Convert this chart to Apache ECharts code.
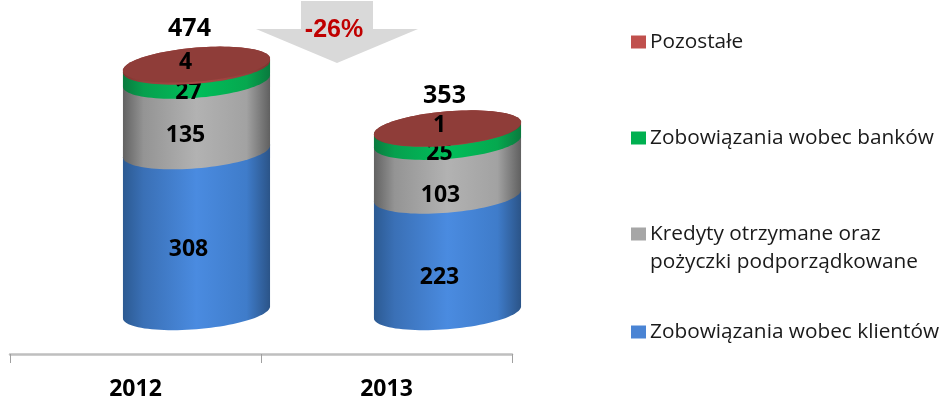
<!DOCTYPE html>
<html><head><meta charset="utf-8">
<style>html,body{margin:0;padding:0;background:#fff}#c{width:942px;height:401px}</style>
<script src="https://cdn.jsdelivr.net/npm/echarts@6/dist/echarts.min.js"></script></head>
<body><div id="c"></div>
<script>
const categories = ['2012', '2013'];
const klienci = [308, 223];
const kredyty = [135, 103];
const banki = [27, 25];
const pozostale = [4, 1];
const totals = [474, 353];
const changeLabel = '-26%';
const names = ['Zobowiązania wobec klientów', 'Kredyty otrzymane oraz\npożyczki podporządkowane', 'Zobowiązania wobec banków', 'Pozostałe'];
const values = [klienci, kredyty, banki, pozostale];
const swatches = ['#4A84D4', '#A6A6A6', '#00B050', '#C0504D'];
const sideStops = [
  ['#2C5A92', '#3A70B6', '#4A8BE0', '#3F7CCA', '#2B5488'],
  ['#626262', '#949494', '#B2B2B2', '#A2A2A2', '#606060'],
  ['#0A7A3E', '#06A04E', '#00BE5A', '#06A84F', '#0A7A3E'],
  ['#7E3430', '#94403C', '#A84844', '#94403C', '#7E3430']
];
const stopAt = [0, .14, .5, .84, 1];
const labelFont = 'Noto Sans';
const bodyShift = 61, widthRatio = 0.586, ry = 17, tilt = 0.08;
// small hand adjustments of label placement: [series][category] -> [dx, dy]
const labelNudge = [[[0, 1], [0, 6]], [[-3, 2], [1, 10]], [[0, 2], [0, 1]], [[-3, 0], [0, 0]]];
const totalNudge = [[0, -1], [4, 3]];

function ellipsePoint(cx, cy, rx, t) {
  const dx = rx * Math.cos(t);
  return [cx + dx, cy + ry * Math.sin(t) - tilt * dx];
}
function renderSegment(s) {
  return function (params, api) {
    const i = api.value(0), from = api.value(1), to = api.value(2);
    const band = api.size([1, 0])[0];
    const base = api.coord([i, from]), top = api.coord([i, to]);
    const cx = base[0] + bodyShift, rx = band * widthRatio / 2;
    const pts = [];
    for (let k = 0; k <= 48; k++) pts.push(ellipsePoint(cx, top[1], rx, Math.PI + Math.PI * k / 48));
    for (let k = 0; k <= 48; k++) pts.push(ellipsePoint(cx, base[1], rx, Math.PI * k / 48));
    const stops = sideStops[s].map((c, n) => ({offset: stopAt[n], color: c}));
    const children = [{type: 'polygon', shape: {points: pts}, style: {fill: {type: 'linear', x: 0, y: 0, x2: 1, y2: 0, colorStops: stops}}}];
    const isTop = s === values.length - 1;
    if (isTop) {
      const cap = [];
      for (let k = 0; k < 96; k++) cap.push(ellipsePoint(cx, top[1], rx, 2 * Math.PI * k / 96));
      children.push({type: 'polygon', shape: {points: cap}, style: {fill: '#8F3D39'}});
    }
    const midY = (base[1] + top[1]) / 2;
    const nudge = labelNudge[s][i];
    children.push({
      type: 'text', z2: 100,
      style: {x: cx - 8 + nudge[0], y: (isTop ? midY - 3 : midY + ry) + nudge[1], text: String(api.value(3)), align: 'center', verticalAlign: 'middle',
        font: 'bold 23px "' + labelFont + '"', fill: '#000'}
    });
    return {type: 'group', children};
  };
}
function segmentData(s) {
  return categories.map((c, i) => {
    let from = 0;
    for (let n = 0; n < s; n++) from += values[n][i];
    return [i, from, from + values[s][i], values[s][i]];
  });
}
const series = values.map((v, s) => ({
  type: 'custom', name: names[s], coordinateSystem: 'cartesian2d',
  itemStyle: {color: swatches[s]}, renderItem: renderSegment(s), data: segmentData(s),
  encode: {x: 0, y: [1, 2]}, z: 2 + s, silent: true
}));
series.push({
  type: 'custom', name: 'Razem', coordinateSystem: 'cartesian2d', silent: true, z: 9,
  data: categories.map((c, i) => [i, values.reduce((a, v) => a + v[i], 0), totals[i]]),
  encode: {x: 0, y: 1},
  renderItem(params, api) {
    const i = api.value(0);
    const p = api.coord([i, api.value(1)]);
    return {type: 'text', z2: 100, style: {x: p[0] + bodyShift - 7 + totalNudge[i][0], y: p[1] - 35 + totalNudge[i][1], text: String(api.value(2)), align: 'center', verticalAlign: 'middle',
      font: 'bold 25px "' + labelFont + '"', fill: '#000'}};
  }
});
const legendTop = [28, 124, 220, 318];
const legend = names.map((n, i) => {
  const j = names.length - 1 - i;
  const two = names[j].includes('\n');
  return {
    data: [names[j]], left: 631, top: legendTop[i], orient: 'vertical', selectedMode: false,
    itemWidth: 15, itemHeight: two ? 41 : 13, itemGap: 0,
    icon: two ? 'path://M0 0H15V13H0Z M0 41H0Z' : 'rect',
    textStyle: {fontFamily: 'Open Sans', fontSize: 20.8, color: '#1a1a1a', lineHeight: 28, padding: [0, 0, 0, -1]},
    padding: 0
  };
});
const chart = echarts.init(document.getElementById('c'), null, {renderer: 'canvas'});
chart.setOption({
  animation: false, backgroundColor: '#fff',
  grid: {left: 10, width: 502, top: 4, bottom: 44, containLabel: false},
  legend,
  xAxis: {type: 'category', data: categories,
    axisLine: {onZero: false, lineStyle: {color: '#BFBFBF', width: 2.5}},
    axisTick: {show: true, length: 9, lineStyle: {color: '#A0A0A0', width: 1}},
    axisLabel: {margin: 24, color: '#000', fontFamily: labelFont, fontWeight: 'bold', fontSize: 23}},
  yAxis: {type: 'value', min: -80, max: 590, show: false},
  graphic: [
    {type: 'polygon', z: 1, shape: {points: [[301, 1], [373, 1], [373, 29], [418, 29], [337, 63], [256, 29], [301, 29]]}, style: {fill: '#D9D9D9'}},
    {type: 'text', z: 20, style: {x: 334, y: 30, text: changeLabel, align: 'center', verticalAlign: 'middle', font: 'bold 25px "Liberation Sans"', fill: '#C00000'}}
  ],
  series
});
</script></body></html>
